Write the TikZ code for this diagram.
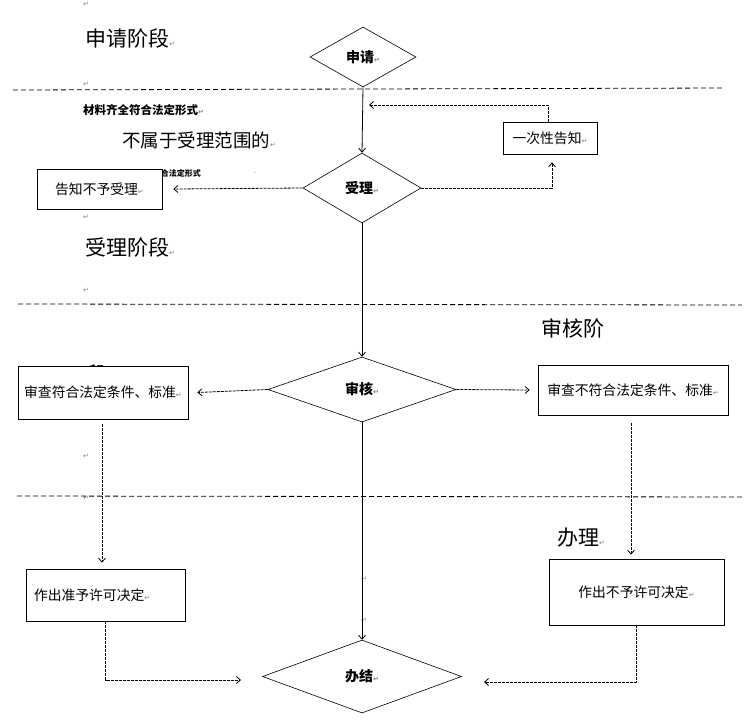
\documentclass[tikz,border=0pt]{standalone}
\usepackage{fontspec}
\setmainfont{Liberation Sans}
\newfontfamily\cjk{Noto Sans CJK SC}
\newfontfamily\symf{DejaVu Sans}
\usetikzlibrary{shapes.geometric,arrows.meta}
\newcommand\rt{{\symf\color{gray}\fontsize{7}{7}\selectfont ↵}}
\tikzset{
 x=1pt,y=-1pt,
 dia/.style={draw, diamond, inner sep=0pt, fill=white, font=\cjk\bfseries\fontsize{14}{14}\selectfont, line width=0.6pt},
 box/.style={draw, fill=white, rectangle, inner sep=0pt, font=\cjk\fontsize{13.8}{14}\selectfont, line width=0.7pt},
 phase/.style={dash pattern=on 5pt off 3pt, line width=0.8pt},
 dsh/.style={dash pattern=on 3pt off 1pt, line width=0.8pt},
 arr/.style={-{Straight Barb[length=4pt,width=7pt]}},
 solid arr/.style={line width=0.8pt, -{Straight Barb[length=4pt,width=7pt]}},
 big/.style={font=\cjk\fontsize{21}{21}\selectfont, anchor=west, inner sep=0pt},
 ret/.style={inner sep=0pt, font=\symf\color{gray}\fontsize{7}{7}\selectfont}
}
\begin{document}
\begin{tikzpicture}
\useasboundingbox (0,0) rectangle (752,723);
% phase separators
\draw[phase] (13,90) -- (725,88);
\draw[phase] (18,304) -- (742,305);
\draw[phase] (17,496) -- (742,497);
% phase labels and stray text
\node[big] (t1) at (85,38) {申请阶段\rt};
\node[big] (t2) at (85,247) {受理阶段\rt};
\node[big] (t3) at (541,328) {审核阶};
\node[big] (t3b) at (86,374) {段};
\node[big] (t4) at (557,538) {办理\rt};
\node[anchor=west, inner sep=0pt, font=\cjk\bfseries\fontsize{11.5}{11.5}\selectfont] (m1) at (83,110) {材料齐全符合法定形式\rt};
\node[anchor=west, inner sep=0pt, font=\cjk\fontsize{18.5}{18.5}\selectfont] (m2) at (122,140) {不属于受理范围的\rt};
\node[anchor=east, inner sep=0pt, font=\cjk\bfseries\fontsize{8}{8}\selectfont] (m3) at (201,173) {材料不齐全不符合法定形式};
% paragraph marks
\node[ret] (r1) at (86,4) {↵};
\node[ret] (r2) at (86,84) {↵};
\node[ret] (r3) at (86,217) {↵};
\node[ret] (r4) at (86,290) {↵};
\node[ret] (r5) at (86,456) {↵};
\node[ret] (r6) at (86,498) {↵};
\node[ret] (r7) at (255,173) {.};
\node[ret] (r8) at (364,579) {↵};
\node[ret] (r9) at (364,620) {↵};
% decision diamonds
\node[dia, minimum width=106pt, minimum height=60pt] (sq) at (363,57) {申请\rt};
\node[dia, minimum width=118pt, minimum height=70pt] (sl) at (362,188) {受理\rt};
\node[dia, minimum width=188pt, minimum height=65pt] (sh) at (362,389.5) {审核\rt};
\node[dia, minimum width=199pt, minimum height=73pt] (bj) at (362,676.5) {办结\rt};
% boxes
\node[box, minimum width=94pt, minimum height=32pt] (yc) at (550,138) {一次性告知\rt};
\node[box, minimum width=125pt, minimum height=40pt] (bz) at (99.5,189) {告知不予受理\rt};
\node[box, minimum width=170pt, minimum height=53pt] (b1) at (103,392.5) {审查符合法定条件、标准\rt};
\node[box, minimum width=190pt, minimum height=50pt] (b2) at (633,390) {审查不符合法定条件、标准\rt};
\node[box, minimum width=159pt, minimum height=52pt, text width=143pt, align=left] (b3) at (105.5,595) {作出准予许可决定\rt};
\node[box, minimum width=175pt, minimum height=66pt] (b4) at (636.5,592) {作出不予许可决定\rt};
% helper coordinates
\coordinate (back) at (369,105);
\coordinate (jl) at (241,680);
\coordinate (jr) at (484,682);
% main flow
\draw[solid arr] (sq.south) -- (sl.north);
\draw[solid arr] (sl.south) -- (sh.north);
\draw[solid arr] (sh.south) -- (bj.north);
% side branches
\draw[dsh,arr] (sl.west) -- ([xshift=11pt]bz.east);
\draw[dsh,arr] (sl.east) -| ([xshift=2pt,yshift=-8pt]yc.south);
\draw[dsh,arr] ([xshift=-2pt]yc.north) |- (back);
\draw[dsh,arr] (sh.west) -- ([xshift=9pt]b1.east);
\draw[dsh,arr] (sh.east) -- ([xshift=-8pt]b2.west);
\draw[dsh,arr] ([xshift=-1pt,yshift=-5pt]b1.south) -- ([xshift=-1pt,yshift=6pt]b1.south |- b3.north);
\draw[dsh,arr] ([xshift=-2pt,yshift=-8pt]b2.south) -- ([xshift=-2pt,yshift=4pt]b2.south |- b4.north);
\draw[dsh,arr] (b3.south) |- (jl);
\draw[dsh,arr] (b4.south) |- (jr);
\end{tikzpicture}
\end{document}
